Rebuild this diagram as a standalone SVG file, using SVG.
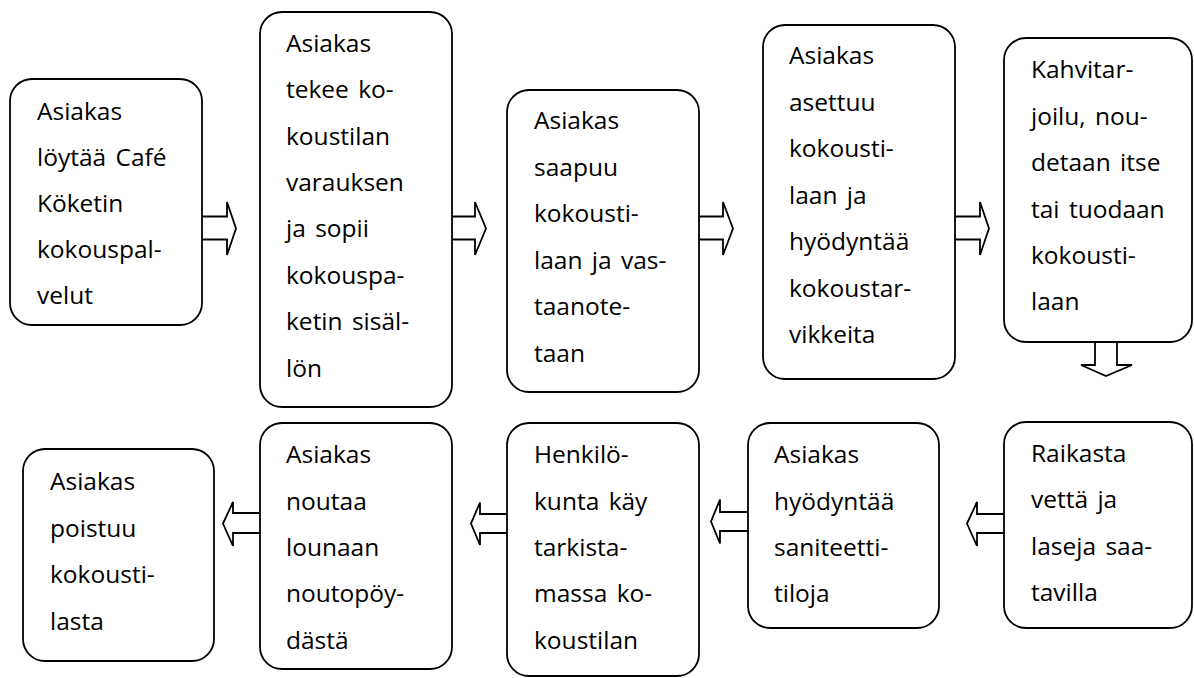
<svg xmlns="http://www.w3.org/2000/svg" width="1194" height="678" viewBox="0 0 1194 678">
<style>
.box{fill:#fff;stroke:#000;stroke-width:1.8}
.arr{fill:#fff;stroke:#000;stroke-width:1.8;stroke-linejoin:miter}
.t{font-family:"Open Sans","Liberation Sans",sans-serif;font-size:24.5px;word-spacing:3px;fill:#000}
</style>
<rect width="1194" height="678" fill="#fff"/>
<g id="connectors">
<path class="arr" d="M202,216.5 H227 V202 L236,228.5 L227,255 V239.5 H202"/>
<path class="arr" d="M452,216.5 H475 V202 L486,228.5 L475,255 V239.5 H452"/>
<path class="arr" d="M699,216.5 H723 V202 L733,228.5 L723,255 V239.5 H699"/>
<path class="arr" d="M955,216.5 H980 V202 L989,228.5 L980,255 V239.5 H955"/>
<path class="arr" d="M1095,342 V365 H1081 L1106,376 L1132,365 H1117 V342"/>
<path class="arr" d="M1004,514 H977 V502 L967,523.5 L977,546 V533 H1004"/>
<path class="arr" d="M748,512 H720 V499.5 L711,521.5 L720,543.5 V531 H748"/>
<path class="arr" d="M507,514 H480 V502.5 L471,523.5 L480,545 V533 H507"/>
<path class="arr" d="M260,513 H233 V502 L223,523.5 L233,546 V533 H260"/>
</g>
<g id="n1">
<rect class="box" x="10" y="79" width="192" height="246" rx="22"/>
<text class="t"><tspan x="37" y="120">Asiakas</tspan><tspan x="37" dy="46">löytää Café</tspan><tspan x="37" dy="46">Köketin</tspan><tspan x="37" dy="46">kokouspal-</tspan><tspan x="37" dy="46">velut</tspan></text>
</g>
<g id="n2">
<rect class="box" x="260" y="12" width="192" height="395" rx="22"/>
<text class="t"><tspan x="286" y="51.7">Asiakas</tspan><tspan x="286" dy="46.4">tekee ko-</tspan><tspan x="286" dy="46.4">koustilan</tspan><tspan x="286" dy="46.4">varauksen</tspan><tspan x="286" dy="46.4">ja sopii</tspan><tspan x="286" dy="46.4">kokouspa-</tspan><tspan x="286" dy="46.4">ketin sisäl-</tspan><tspan x="286" dy="46.4">lön</tspan></text>
</g>
<g id="n3">
<rect class="box" x="507" y="90" width="192" height="302" rx="22"/>
<text class="t"><tspan x="534" y="129.3">Asiakas</tspan><tspan x="534" dy="46.5">saapuu</tspan><tspan x="534" dy="46.5">kokousti-</tspan><tspan x="534" dy="46.5">laan ja vas-</tspan><tspan x="534" dy="46.5">taanote-</tspan><tspan x="534" dy="46.5">taan</tspan></text>
</g>
<g id="n4">
<rect class="box" x="763" y="25" width="192" height="354" rx="22"/>
<text class="t"><tspan x="789" y="64.3">Asiakas</tspan><tspan x="789" dy="46.5">asettuu</tspan><tspan x="789" dy="46.5">kokousti-</tspan><tspan x="789" dy="46.5">laan ja</tspan><tspan x="789" dy="46.5">hyödyntää</tspan><tspan x="789" dy="46.5">kokoustar-</tspan><tspan x="789" dy="46.5">vikkeita</tspan></text>
</g>
<g id="n5">
<rect class="box" x="1004" y="38" width="188" height="304" rx="22"/>
<text class="t"><tspan x="1031" y="78.3">Kahvitar-</tspan><tspan x="1031" dy="46.4">joilu, nou-</tspan><tspan x="1031" dy="46.4">detaan itse</tspan><tspan x="1031" dy="46.4">tai tuodaan</tspan><tspan x="1031" dy="46.4">kokousti-</tspan><tspan x="1031" dy="46.4">laan</tspan></text>
</g>
<g id="n6">
<rect class="box" x="1004" y="422" width="188" height="206" rx="22"/>
<text class="t"><tspan x="1031" y="461.7">Raikasta</tspan><tspan x="1031" dy="46.5">vettä ja</tspan><tspan x="1031" dy="46.5">laseja saa-</tspan><tspan x="1031" dy="46.5">tavilla</tspan></text>
</g>
<g id="n7">
<rect class="box" x="748" y="423" width="191" height="205" rx="22"/>
<text class="t"><tspan x="774" y="463.3">Asiakas</tspan><tspan x="774" dy="46.3">hyödyntää</tspan><tspan x="774" dy="46.3">saniteetti-</tspan><tspan x="774" dy="46.3">tiloja</tspan></text>
</g>
<g id="n8">
<rect class="box" x="507" y="423" width="192" height="253" rx="22"/>
<text class="t"><tspan x="534" y="463.3">Henkilö-</tspan><tspan x="534" dy="46.3">kunta käy</tspan><tspan x="534" dy="46.3">tarkista-</tspan><tspan x="534" dy="46.3">massa ko-</tspan><tspan x="534" dy="46.3">koustilan</tspan></text>
</g>
<g id="n9">
<rect class="box" x="260" y="423" width="192" height="246" rx="22"/>
<text class="t"><tspan x="286" y="463.3">Asiakas</tspan><tspan x="286" dy="46.3">noutaa</tspan><tspan x="286" dy="46.3">lounaan</tspan><tspan x="286" dy="46.3">noutopöy-</tspan><tspan x="286" dy="46.3">dästä</tspan></text>
</g>
<g id="n10">
<rect class="box" x="23" y="449" width="191" height="212" rx="22"/>
<text class="t"><tspan x="50" y="490">Asiakas</tspan><tspan x="50" dy="46.5">poistuu</tspan><tspan x="50" dy="46.5">kokousti-</tspan><tspan x="50" dy="46.5">lasta</tspan></text>
</g>
</svg>
